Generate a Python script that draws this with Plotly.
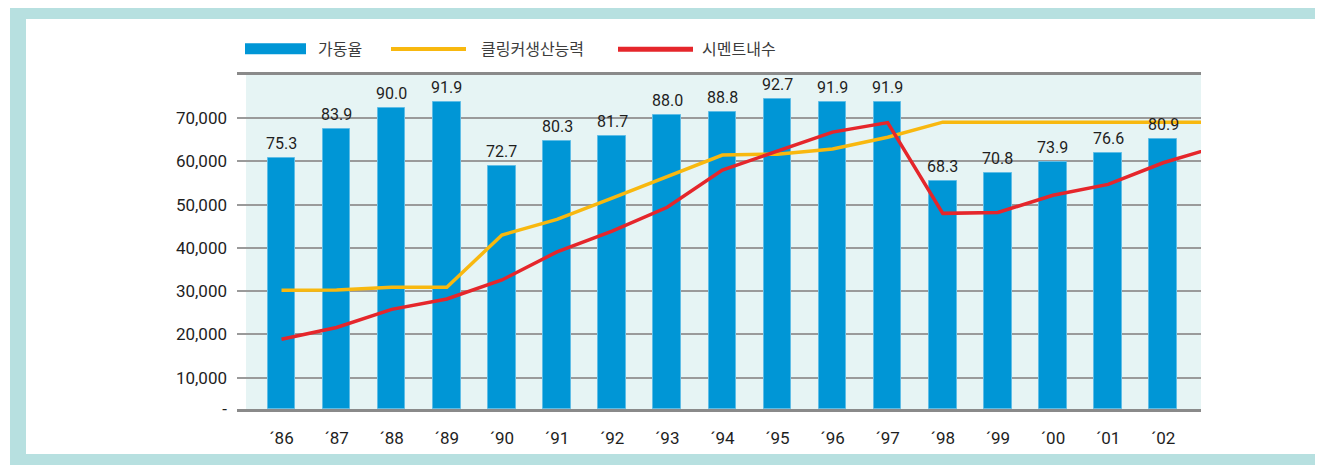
import plotly.graph_objects as go

# ---------------- data ----------------
years = ["´86", "´87", "´88", "´89", "´90", "´91", "´92", "´93", "´94",
         "´95", "´96", "´97", "´98", "´99", "´00", "´01", "´02"]
operating_rate = [75.3, 83.9, 90.0, 91.9, 72.7, 80.3, 81.7, 88.0, 88.8,
                  92.7, 91.9, 91.9, 68.3, 70.8, 73.9, 76.6, 80.9]
# clinker capacity and domestic cement demand (line continues past '02 to the frame edge)
clinker_capacity = [30200, 30300, 30900, 30900, 43000, 46600, 51500, 56400, 61500,
                    61700, 62900, 65600, 69100, 69100, 69100, 69100, 69100, 69100]
cement_demand = [18900, 21600, 25800, 28200, 32600, 39100, 43900, 49400, 58000,
                 62300, 66800, 69000, 48000, 48200, 52200, 54700, 59700, 63500]
y_tick_vals = [10000, 20000, 30000, 40000, 50000, 60000, 70000]
y_bottom = 2760
legend_names = ["가동율", "클링커생산능력", "시멘트내수"]

# ---------------- style ----------------
OFF = 8  # page body margin in the browser
W, H = 1325 - OFF, 466 - OFF
L, T = 237 - OFF, 75 - OFF
R, B = W - (1201 - OFF), H - (409 - OFF)
PW, PH = W - L - R, H - T - B

BLUE = "#0096d6"
YELLOW = "#f8b80f"
RED = "#e5262b"
TEAL = "#b7e0e0"
PLOT_BG = "#e6f4f4"


def px(x):
    """screen x pixel -> paper"""
    return (x - OFF - L) / PW


def py(y):
    """screen y pixel -> paper"""
    return (H - B - (y - OFF)) / PH


xs_bar = list(range(len(years)))
xs_line = list(range(len(clinker_capacity)))

fig = go.Figure()
fig.add_trace(go.Bar(
    x=xs_bar, y=operating_rate, yaxis="y", width=0.5,
    marker=dict(color=BLUE, line=dict(color="#5fbde6", width=1)),
    name=legend_names[0], showlegend=False,
))
fig.add_trace(go.Scatter(
    x=xs_line, y=clinker_capacity, yaxis="y2", mode="lines",
    line=dict(color=YELLOW, width=3.5), name=legend_names[1], showlegend=False,
))
fig.add_trace(go.Scatter(
    x=xs_line, y=cement_demand, yaxis="y2", mode="lines",
    line=dict(color=RED, width=3.5), name=legend_names[2], showlegend=False,
))

annotations = []
for i, v in enumerate(operating_rate):
    annotations.append(dict(
        x=i, y=v, xref="x", yref="y", text=f"{v:.1f}", showarrow=False,
        yanchor="bottom", yshift=3,
        font=dict(family="Roboto", size=16, color="#1e1e1e"),
    ))

shapes = []
# outer frame (teal band on left, top and bottom)
for (x0, y0, x1, y1) in [(10, 3, 1315, 19), (10, 454, 1315, 465), (10, 3, 26, 465)]:
    shapes.append(dict(type="rect", xref="paper", yref="paper",
                       x0=px(x0), x1=px(x1), y0=py(y1), y1=py(y0),
                       fillcolor=TEAL, line=dict(width=0), layer="below"))
# plot background tint (starts a bit right of gridline start)
shapes.append(dict(type="rect", xref="paper", yref="paper",
                   x0=px(246), x1=1, y0=0, y1=1,
                   fillcolor=PLOT_BG, line=dict(width=0), layer="below"))

# legend
shapes.append(dict(type="rect", xref="paper", yref="paper",
                   x0=px(245), x1=px(306), y0=py(54.3), y1=py(43.3),
                   fillcolor=BLUE, line=dict(width=0)))
shapes.append(dict(type="line", xref="paper", yref="paper",
                   x0=px(391), x1=px(466), y0=py(49), y1=py(49),
                   line=dict(color=YELLOW, width=4)))
shapes.append(dict(type="line", xref="paper", yref="paper",
                   x0=px(618), x1=px(693), y0=py(49.3), y1=py(49.3),
                   line=dict(color=RED, width=5)))
for name, x0 in zip(legend_names, [316, 479, 700]):
    annotations.append(dict(
        x=px(x0), y=py(48.5), xref="paper", yref="paper", text=name,
        showarrow=False, xanchor="left", yanchor="middle",
        font=dict(family="Noto Sans CJK KR", size=16, color="#3c3c3c"),
    ))

x_left = -(281.5 - 237) / 55.11
x_right = 16 + (1201 - 1163.2) / 55.11

fig.update_layout(
    width=W, height=H,
    margin=dict(l=L, r=R, t=T, b=B, pad=0),
    paper_bgcolor="white", plot_bgcolor="rgba(0,0,0,0)",
    showlegend=False,
    bargap=0,
    xaxis=dict(
        range=[x_left, x_right], tickmode="array", tickvals=xs_bar, ticktext=years,
        showgrid=False, zeroline=False, showline=True, mirror=True,
        linecolor="#8a8a8a", linewidth=2.5, ticks="", ticklabelstandoff=12,
        tickfont=dict(family="Roboto", size=17, color="#1e1e1e"),
    ),
    yaxis=dict(
        range=[0, 100], visible=False, showgrid=False, zeroline=False,
    ),
    yaxis2=dict(
        overlaying="y", side="left", range=[y_bottom, 80000],
        tickmode="array", tickvals=[y_bottom] + y_tick_vals,
        ticktext=["-"] + [f"{v:,}" for v in y_tick_vals],
        showgrid=True, gridcolor="#9a9a9a", gridwidth=1.5, zeroline=False,
        showline=False, ticks="", ticklabelstandoff=9,
        tickfont=dict(family="Roboto", size=17, color="#1e1e1e"),
    ),
    shapes=shapes,
    annotations=annotations,
)

fig.write_html("out.html")
